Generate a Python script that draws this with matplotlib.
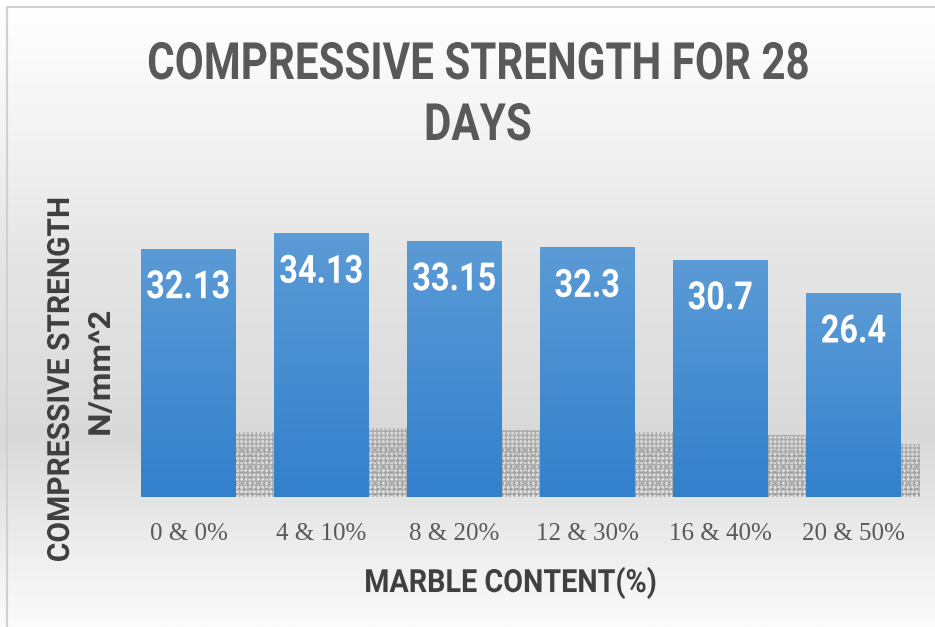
import matplotlib.pyplot as plt
import numpy as np
from matplotlib.colors import LinearSegmentedColormap
from matplotlib.patheffects import AbstractPathEffect
from matplotlib.transforms import Affine2D

categories = ["0 & 0%", "4 & 10%", "8 & 20%", "12 & 30%", "16 & 40%", "20 & 50%"]
strength = [32.13, 34.13, 33.15, 32.3, 30.7, 26.4]
labels = ["32.13", "34.13", "33.15", "32.3", "30.7", "26.4"]


class Squeeze(AbstractPathEffect):
    """Narrow (or widen) the glyphs horizontally around the centre of each line."""

    def __init__(self, sx):
        super().__init__()
        self.sx = sx

    def draw_path(self, renderer, gc, tpath, affine, rgbFace=None):
        v = tpath.vertices
        cx = (v[:, 0].min() + v[:, 0].max()) / 2 if len(v) else 0
        t = Affine2D().translate(-cx, 0).scale(self.sx, 1).translate(cx, 0) + affine
        renderer.draw_path(gc, tpath, t, rgbFace)


W, H = 935, 627
fig = plt.figure(figsize=(W / 100, H / 100), dpi=100)

# background gradient + frame
bg = fig.add_axes([0, 0, 1, 1], zorder=-5)
bg_cmap = LinearSegmentedColormap.from_list(
    "bg", [(0, "#ffffff"), (0.15, "#f7f7f7"), (0.4, "#e6e6e6"),
           (0.7, "#d9d9d9"), (0.86, "#ececec"), (1.0, "#fbfbfb")])
bg.imshow(np.linspace(0, 1, 256)[:, None], aspect="auto", cmap=bg_cmap,
          extent=[0, 1, 0, 1])
bg.plot([7 / W, 7 / W, 1], [0, 1 - 7 / H, 1 - 7 / H], color="#d0d0d0", lw=1.5)
bg.set_xlim(0, 1)
bg.set_ylim(0, 1)
bg.axis("off")

ax = fig.add_axes([122 / W, 130 / H, 798 / W, 309 / H])
ax.patch.set_alpha(0)
x = np.arange(len(categories))
width = 0.714

# textured shadows behind the bars
plt.rcParams["hatch.linewidth"] = 1.0
for xi, v in zip(x, strength):
    ax.bar(xi + 0.05, v * 0.26, width=width + 0.3, align="edge",
           facecolor="none", edgecolor="#ababab", hatch="++++", lw=0, zorder=1)
    ax.bar(xi + 0.05, v * 0.20, width=width + 0.22, align="edge",
           facecolor="none", edgecolor="#9c9c9c", hatch="...", lw=0, zorder=1)

bars = ax.bar(x, strength, width=width, color="#4a8fd3", zorder=2)

bar_cmap = LinearSegmentedColormap.from_list("bar", ["#3380cc", "#5b9bd6"])
grad = np.linspace(0, 1, 256)[:, None]
for b in bars:
    im = ax.imshow(grad, aspect="auto", cmap=bar_cmap, origin="lower",
                   extent=[b.get_x(), b.get_x() + b.get_width(), 0, b.get_height()],
                   zorder=3)
    im.set_clip_path(b)

for b, lab in zip(bars, labels):
    ax.annotate(lab, (b.get_x() + b.get_width() / 2, b.get_height()),
                xytext=(0, -28), textcoords="offset points",
                ha="center", va="center", color="white", fontsize=28,
                fontweight="bold", family="Roboto", zorder=4,
                path_effects=[Squeeze(0.835)])

ax.set_xlim(-0.5, len(categories) - 0.5)
ax.set_ylim(0, 40)
ax.set_xticks(x)
ax.set_xticklabels(categories, family="Liberation Serif", fontsize=18,
                   color="#595959")
ax.tick_params(axis="x", length=0, pad=19)
ax.set_yticks([])
for s in ax.spines.values():
    s.set_visible(False)

# axis titles
fig.text(511 / W, 1 - 592 / H, "MARBLE CONTENT(%)", ha="center", va="baseline",
         family="Roboto", fontweight="bold", fontsize=23, color="#404040",
         path_effects=[Squeeze(0.90)])
fig.text(69 / W, 1 - 380 / H, "COMPRESSIVE STRENGTH", rotation=90,
         rotation_mode="anchor", ha="center", va="baseline", family="Roboto",
         fontweight="bold", fontsize=22, color="#404040",
         path_effects=[Squeeze(0.98)])
fig.text(110 / W, 1 - 374 / H, "N/mm^2", rotation=90,
         rotation_mode="anchor", ha="center", va="baseline", family="Roboto",
         fontweight="bold", fontsize=22, color="#404040",
         path_effects=[Squeeze(1.08)])

# chart title
fig.text(478 / W, 1 - 79 / H, "COMPRESSIVE STRENGTH FOR 28", ha="center",
         va="baseline", family="Roboto", fontweight="bold", fontsize=37,
         color="#595959", path_effects=[Squeeze(0.82)])
fig.text(478 / W, 1 - 140 / H, "DAYS", ha="center", va="baseline",
         family="Roboto", fontweight="bold", fontsize=37, color="#595959",
         path_effects=[Squeeze(0.82)])

plt.savefig("out.png", dpi=100)
